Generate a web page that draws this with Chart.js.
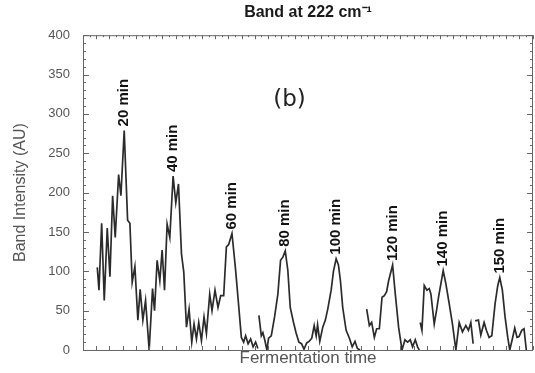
<!DOCTYPE html>
<html>
<head>
<meta charset="utf-8">
<script src="https://cdn.jsdelivr.net/npm/chart.js@4"></script>
<style>
  html, body { margin: 0; padding: 0; background: #fff; }
</style>
</head>
<body>
<canvas id="bandChart" width="535" height="373"></canvas>
<script>
// readings taken off the trace, x is in arbitrary run units (no labels on the axis)
const runTime = [
  14.3, 16, 18.7, 21.3, 24.3, 27, 29.7, 32.3, 35.7, 38, 41.3, 44.7, 47, 49.3, 52, 55, 57.3, 60, 62.7, 66.3,
  69.7, 71.7, 74.3, 77, 79.3, 81.7, 84.3, 87, 90.3, 93, 95.7, 98.7, 101, 103.7, 106.3, 109, 111.3, 113.7, 116, 118.7,
  121.3, 123.7, 127, 129.3, 132.3, 135.3, 138, 141, 143.7, 146, 149.3, 152.7, 155.3, 158.7, 161, 163, 165.5, 168, 170.5, 173, 175.3,
  175.8,
  176.3, 178.7, 180.3, 182.3, 184.3, 186, 188.7, 192, 195.3, 198, 200.3, 202.7, 205.3, 207.7, 211, 213.5, 216.4, 219, 221.5, 224.2,
  226.6, 229.3, 231.7, 233.7, 235.1, 237.3, 240.3, 242.9, 245.3, 248.7, 251, 253.7, 256, 258, 260.3, 263.7, 267, 269.8, 272.6, 275, 277.7,
  281,
  284.3, 287, 289.3, 292, 294.3, 297, 299.7, 302, 304.3, 306.3, 309.3, 310.3, 313, 316.3, 319.7, 322.7, 325.3, 328, 330.3, 333, 335.3, 337,
  337.5,
  338, 339.7, 342, 344.7, 347, 348.7, 352, 354.3, 356.3, 361, 363.7, 367, 370.3, 373.7, 377, 380.3, 383.7, 386.3, 388.7, 391,
  392,
  393, 396.3, 398.7, 402, 404.3, 407, 409.7, 413, 415.7, 417.7, 420.3, 423, 425.7, 427.7, 430.3, 432.7, 435, 437, 439.7, 442, 444.3
];
const bandIntensity = [
  105, 76, 161, 63, 155, 93, 196, 143, 223, 196, 279, 165, 161, 86, 106, 38, 77, 38, 63, 0,
  78, 50, 114, 88, 127, 76, 160, 143, 221, 187, 211, 122, 99, 29, 52, 10, 33, 14, 35, 12,
  42, 21, 71, 50, 76, 54, 69, 69, 131, 134, 148, 105, 67, 16, 10, 18, 8, 14, 4, 10, 2,
  null,
  44, 18, 22, 12, 0, 15, 18, 42, 71, 114, 118, 126, 101, 54, 35, 22, 10, 8, 1, 9,
  11, 15, 31, 18, 32, 11, 29, 38, 52, 76, 100, 116, 108, 88, 54, 25, 15, 4, 11, 2, 0,
  null,
  52, 31, 35, 16, 27, 27, 67, 69, 74, 88, 103, 108, 71, 29, 0, 13, 10, 13, 4, 13, 4, 0,
  null,
  35, 25, 82, 76, 78, 71, 33, 50, 67, 101, 84, 59, 33, 0, 35, 23, 31, 25, 35, 8,
  null,
  37, 38, 19, 35, 25, 16, 18, 59, 82, 92, 76, 42, 16, 0, 14, 28, 16, 17, 25, 27, 0
];

const peakLabels = ["20 min", "40 min", "60 min", "80 min", "100 min", "120 min", "140 min", "150 min"];
const peakTime = [41.3, 90.3, 149.3, 202.7, 253.7, 310.3, 361, 417.7];
const peakHeight = [279, 221, 148, 126, 116, 108, 101, 92];

const yMin = 0, yMax = 400, yStep = 50, yMinorStep = 10;
const xMin = 0, xMax = 451, xStep = 13.25;

const points = runTime.map((t, i) => ({ x: t, y: bandIntensity[i] }));

// frame, inward ticks and the peak annotations
const decorations = {
  id: "decorations",
  afterDatasetsDraw(chart) {
    const { ctx, chartArea: a, scales } = chart;
    const xs = scales.x, ys = scales.y;
    ctx.save();
    ctx.strokeStyle = "#666";
    ctx.lineWidth = 1;
    ctx.strokeRect(a.left + 0.5, a.top + 0.5, a.right - a.left - 1, a.bottom - a.top);

    ctx.beginPath();
    for (let v = yMin; v <= yMax; v += yMinorStep) {
      const py = Math.round(ys.getPixelForValue(v)) + 0.5;
      const len = v % yStep === 0 ? 6 : 3;
      ctx.moveTo(a.left, py); ctx.lineTo(a.left + len, py);
      ctx.moveTo(a.right, py); ctx.lineTo(a.right - len, py);
    }
    for (let v = xMin; v <= xMax; v += xStep / 2) {
      const px = Math.round(xs.getPixelForValue(v)) + 0.5;
      const major = Math.round(v / xStep * 2) % 2 === 0;
      if (major) { ctx.moveTo(px, a.bottom); ctx.lineTo(px, a.bottom - 4); }
      ctx.moveTo(px, a.top); ctx.lineTo(px, a.top + (major ? 4 : 2));
    }
    ctx.stroke();

    ctx.fillStyle = "#111";
    ctx.font = "bold 15px 'Liberation Sans', Arial, sans-serif";
    ctx.textAlign = "left";
    ctx.textBaseline = "middle";
    peakLabels.forEach((lab, i) => {
      const px = xs.getPixelForValue(peakTime[i]);
      const py = ys.getPixelForValue(peakHeight[i]) - 4;
      ctx.save();
      ctx.translate(px, py);
      ctx.rotate(-Math.PI / 2);
      ctx.fillText(lab, 0, 0);
      ctx.restore();
    });

    ctx.font = "23px 'DejaVu Sans', sans-serif";
    ctx.textAlign = "center";
    ctx.fillStyle = "#222";
    ctx.fillText("(b)", xs.getPixelForValue(207), ys.getPixelForValue(318));
    ctx.restore();
  }
};

new Chart(document.getElementById("bandChart"), {
  type: "line",
  data: {
    datasets: [{
      data: points,
      borderColor: "#2b2b2b",
      borderWidth: 1.7,
      pointRadius: 0,
      tension: 0,
      spanGaps: false
    }]
  },
  options: {
    responsive: false,
    animation: false,
    devicePixelRatio: 1,
    layout: { padding: { top: 3, right: 2, bottom: 0, left: 0 } },
    plugins: {
      legend: { display: false },
      tooltip: { enabled: false },
      title: {
        display: true,
        text: "Band at 222 cm\u207B\u00B9",
        fullSize: false,
        color: "#1a1a1a",
        font: { family: "'Liberation Sans', Arial, sans-serif", size: 16, weight: "bold" },
        padding: { top: 0, bottom: 13 }
      }
    },
    scales: {
      x: {
        type: "linear",
        min: xMin,
        max: xMax,
        grid: { display: false },
        border: { display: false },
        ticks: { display: false },
        title: {
          display: true,
          text: "Fermentation time",
          color: "#555",
          font: { family: "'Liberation Sans', Arial, sans-serif", size: 17 },
          padding: { top: 0, bottom: 4 }
        },
        afterFit: (s) => { s.height = 23; }
      },
      y: {
        min: yMin,
        max: yMax,
        grid: { display: false },
        border: { display: false },
        ticks: {
          stepSize: yStep,
          padding: 5,
          color: "#555",
          font: { family: "'Liberation Sans', Arial, sans-serif", size: 13 }
        },
        title: {
          display: true,
          text: "Band Intensity (AU)",
          color: "#555",
          font: { family: "'Liberation Sans', Arial, sans-serif", size: 16 },
          padding: { top: 11, bottom: 0 }
        },
        afterFit: (s) => { s.width = 83; }
      }
    }
  },
  plugins: [decorations]
});
</script>
</body>
</html>
